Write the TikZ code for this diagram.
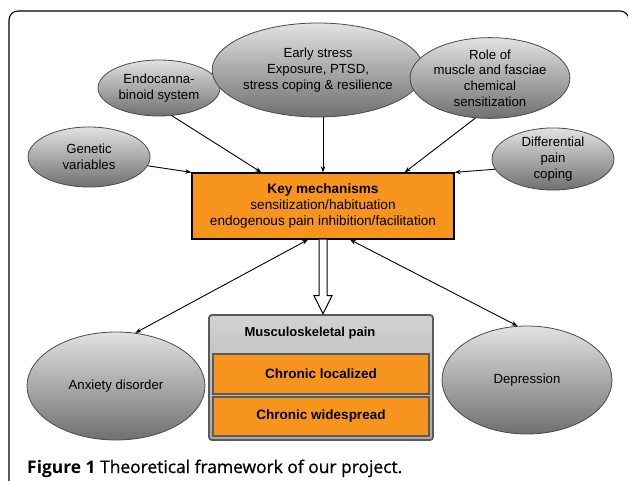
\documentclass[tikz,border=0pt]{standalone}
\usepackage{fontspec}
\setmainfont{Liberation Sans}
\newfontfamily\capfont{Open Sans}
\usetikzlibrary{arrows.meta,shapes.geometric}
\definecolor{keyorange}{HTML}{F7941D}
\definecolor{ovaltop}{HTML}{E2E2E2}
\definecolor{ovalbot}{HTML}{707070}
\definecolor{ovalline}{HTML}{4A4A4A}
\definecolor{boxtop}{HTML}{D2D2D2}
\definecolor{boxbot}{HTML}{A8A8A8}
\definecolor{boxline}{HTML}{5A5A5A}
\begin{document}
\begin{tikzpicture}[x=1pt,y=-1pt,
    oval/.style={draw=ovalline, ellipse, line width=0.8pt, top color=ovaltop,
      bottom color=ovalbot, inner sep=0pt, align=center,
      font=\fontsize{13.2}{15.8}\selectfont},
    link/.style={-{Stealth[length=6pt,width=4.5pt]}, line width=0.9pt},
    twoway/.style={{Stealth[length=6pt,width=4.5pt]}-{Stealth[length=6pt,width=4.5pt]}, line width=0.9pt},
    chronic/.style={draw=boxline, line width=1.2pt, fill=keyorange, minimum width=216pt,
      inner sep=0pt, font=\fontsize{13.5}{15}\selectfont\bfseries}]
    \useasboundingbox (0,0) rectangle (628,481);
    \fill[white] (0,0) rectangle (628,481);

    % frame
    \draw[line width=1.1pt, rounded corners=9pt] (9,490) -- (9,11) -- (629,11) -- (629,490);

    % influences
    \node[oval, minimum width=122pt, minimum height=60pt] (GV) at (89,157) {Genetic\\variables};
    \node[oval, minimum width=122pt, minimum height=56pt] (EC) at (159,88) {Endocanna-\\binoid system};
    \node[oval, minimum width=174pt, minimum height=94pt] (ES) at (318,70) {Early stress\\Exposure, PTSD,\\stress coping \& resilience};
    \node[oval, minimum width=140pt, minimum height=76pt] (RM) at (490,78) {Role of\\muscle and fasciae\\chemical\\sensitization};
    \node[oval, minimum width=122pt, minimum height=58pt] (DP) at (553,159) {Differential\\pain\\coping};

    % key mechanisms
    \node[draw, line width=1.3pt, fill=keyorange, minimum width=262pt, minimum height=66pt,
      inner sep=0pt, align=center, font=\fontsize{13.6}{16.2}\selectfont] (KM) at (323,206)
      {\textbf{Key mechanisms}\\sensitization/habituation\\endogenous pain inhibition/facilitation};

    % outcomes
    \node[oval, minimum width=178pt, minimum height=108pt] (AD) at (116,386) {Anxiety disorder};
    \node[oval, minimum width=170pt, minimum height=108pt] (DE) at (527,380) {Depression};

    \node[draw=boxline, line width=1.8pt, rounded corners=3pt, top color=boxtop, bottom color=boxbot,
      minimum width=224pt, minimum height=125pt, inner sep=0pt] (MP) at (321,377.5) {};
    \node[font=\fontsize{13}{15}\selectfont\bfseries] (MPT) at (310,333) {Musculoskeletal pain};
    \node[chronic, minimum height=40pt] (CL) at (321,374) {Chronic localized};
    \node[chronic, minimum height=39pt] (CW) at (321,416.5) {Chronic widespread};

    % connectors
    \draw[link] (GV) -- (KM.north west);
    \draw[link] (EC.-65) -- ([xshift=70pt]KM.north west);
    \draw[link] (ES.south -| KM.north) -- (KM.north);
    \draw[link] (RM.-110) -- ([xshift=-50pt]KM.north east);
    \draw[link] (DP.-170) -- (KM.north east);
    \draw[twoway] (AD.70) -- ([xshift=-15pt]KM.south);
    \draw[twoway] (DE.100) -- ([xshift=27pt]KM.south);
    \draw[line width=1pt, fill=white, line join=miter] ([xshift=-4pt]KM.south) -- ++(0,56) -- ++(-5,0)
      -- ++(9,18) -- ++(9,-18) -- ++(-5,0) -- ([xshift=4pt]KM.south);

    % caption
    \node[anchor=base west, inner sep=0pt, font=\capfont\fontsize{17.4}{20}\selectfont] (CAP) at (27,473)
      {\textbf{Figure 1} {\addfontfeature{FakeBold=0.8}Theoretical framework of our project.}};
\end{tikzpicture}
\end{document}
